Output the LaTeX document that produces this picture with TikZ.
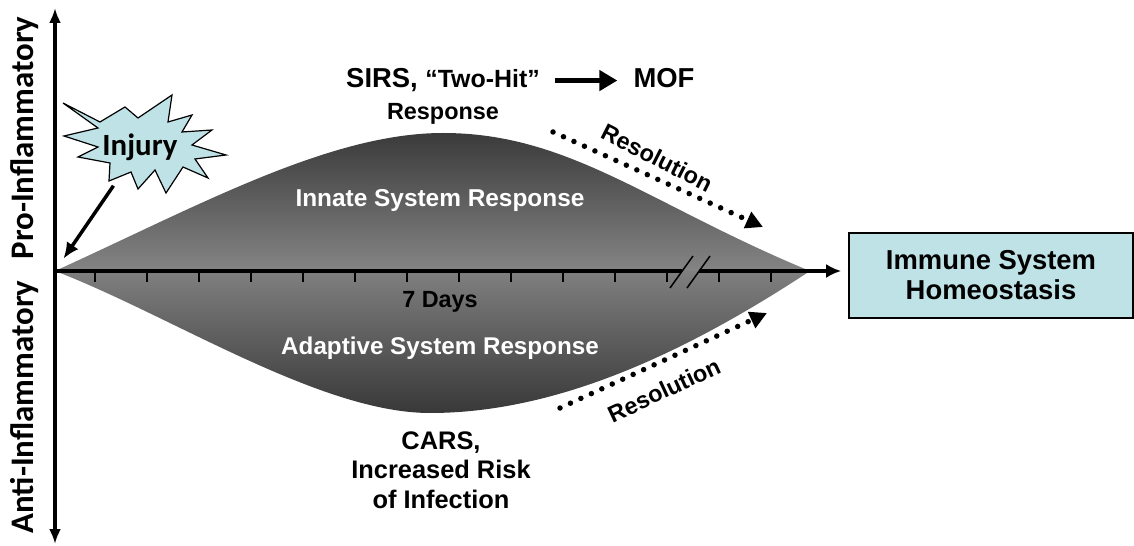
\documentclass[tikz,border=0pt]{standalone}
\usepackage{fontspec}
\setmainfont{Liberation Sans}
\newfontfamily\calib{Carlito}
\usetikzlibrary{positioning,arrows.meta}
\definecolor{paleblue}{RGB}{191,226,231}

\begin{document}
\begin{tikzpicture}[
  x=1bp, y=-1bp,
  lbl/.style={inner sep=0pt, font=\bfseries, align=center},
  whitelbl/.style={lbl, text=white},
  sidelbl/.style={lbl, rotate=90, font=\calib\bfseries\fontsize{33}{33}\selectfont},
  axisline/.style={line width=3.2bp},
  tick/.style={line width=2bp},
  arr/.style={-{Latex[length=16bp,width=14bp]}, line width=3.5bp},
  bigarr/.style={-{Triangle[length=18bp,width=20bp]}, line width=5bp},
  dotarr/.style={-{Triangle[length=17bp,width=17bp]}, line width=5.5bp, line cap=round, dash pattern=on 0bp off 11.5bp},
  cyanbox/.style={draw, line width=1.6bp, fill=paleblue, minimum width=284bp, minimum height=85bp, align=center, inner sep=0pt, font=\bfseries\fontsize{27.5}{30}\selectfont}
]
\useasboundingbox (0,0) rectangle (1134,546);

% the two response lobes
\shade[top color=black!77, bottom color=black!48]
  (55,271) .. controls (200,205) and (330,133) .. (443,133)
  .. controls (570,133) and (650,205) .. (810,271) -- cycle;
\shade[top color=black!50, bottom color=black!78]
  (55,271) .. controls (170,315) and (320,413) .. (430,413)
  .. controls (560,413) and (690,350) .. (810,271) -- cycle;

\coordinate (origin) at (55,271);
\coordinate (ytop) at (55,8);
\coordinate (ybot) at (55,544);
\coordinate (brkL) at (682,271);
\coordinate (brkR) at (699,271);

\node[cyanbox] (home) at (991,275.5) {Immune System\\Homeostasis};

% axes
\draw[axisline, {Latex[length=15bp,width=12bp]}-{Latex[length=15bp,width=12bp]}] (ytop) -- (ybot);
\draw[axisline] (origin) -- (brkL);
\draw[axisline, -{Latex[length=15bp,width=14bp]}, shorten >=7bp] (brkR) -- (brkR -| home.west);
\foreach \tx in {95,147,...,771}
  \draw[tick] (\tx,271) -- (\tx,282);
\draw[line width=1.5bp] (670,288) -- (693,256);
\draw[line width=1.5bp] (687,288) -- (710,256);

\node[sidelbl] (pro) at (25,138) {Pro-Inflammatory};
\node[sidelbl] (anti) at (25,407) {Anti-Inflammatory};

% injury burst
\draw[fill=paleblue, line width=1.2bp] (63,103) -- (100,122) -- (125,107) -- (138,118) -- (172,95)
  -- (168,122) -- (192,115) -- (182,132) -- (212,130) -- (192,145) -- (226,155) -- (195,159)
  -- (208,178) -- (183,167) -- (166,193) -- (155,170) -- (138,189) -- (131,172) -- (109,181)
  -- (110,163) -- (78,157) -- (98,147) -- (64,136) -- (98,128) -- cycle;
\node[lbl, font=\calib\bfseries\fontsize{31}{31}\selectfont] (inj) at (140,147) {Injury};
\draw[arr, shorten <=47bp, shorten >=15bp] (inj.center) -- (origin);

\node[lbl, anchor=base, font=\bfseries\fontsize{27.5}{30}\selectfont] (sirs) at (443,88) {SIRS, {\fontsize{25}{30}\selectfont “Two-Hit”}};
\node[lbl, anchor=base, font=\bfseries\fontsize{23.5}{28}\selectfont] (resp) at (443,120) {Response};
\node[lbl, anchor=base, font=\bfseries\fontsize{27.5}{30}\selectfont] (mof) at (664,88) {MOF};
\draw[bigarr, shorten <=15bp, shorten >=16bp] (sirs.east) -- (sirs.east -| mof.west);

\node[whitelbl, font=\bfseries\fontsize{24.5}{27}\selectfont] (innate) at (440,201) {Innate System Response};
\node[lbl, font=\bfseries\fontsize{23.5}{26}\selectfont] (days) at (440,302) {7 Days};
\node[whitelbl, font=\bfseries\fontsize{24.3}{27}\selectfont] (adapt) at (440,348) {Adaptive System Response};
\node[lbl, font=\bfseries\fontsize{25.5}{29.5}\selectfont] (cars) at (441,470) {CARS,\\Increased Risk\\of Infection};

% resolution arrows
\coordinate (up1) at (553,132);
\coordinate (up2) at (763,227);
\coordinate (lo1) at (560,408);
\coordinate (lo2) at (767,313);
\draw[dotarr] (up1) -- (up2);
\draw[dotarr] (lo1) -- (lo2);
\node[lbl, rotate=-27, font=\bfseries\fontsize{23.5}{26}\selectfont] (resup) at (657,158) {Resolution};
\node[lbl, rotate=25, font=\bfseries\fontsize{23.5}{26}\selectfont] (reslo) at (664,390) {Resolution};
\end{tikzpicture}
\end{document}
